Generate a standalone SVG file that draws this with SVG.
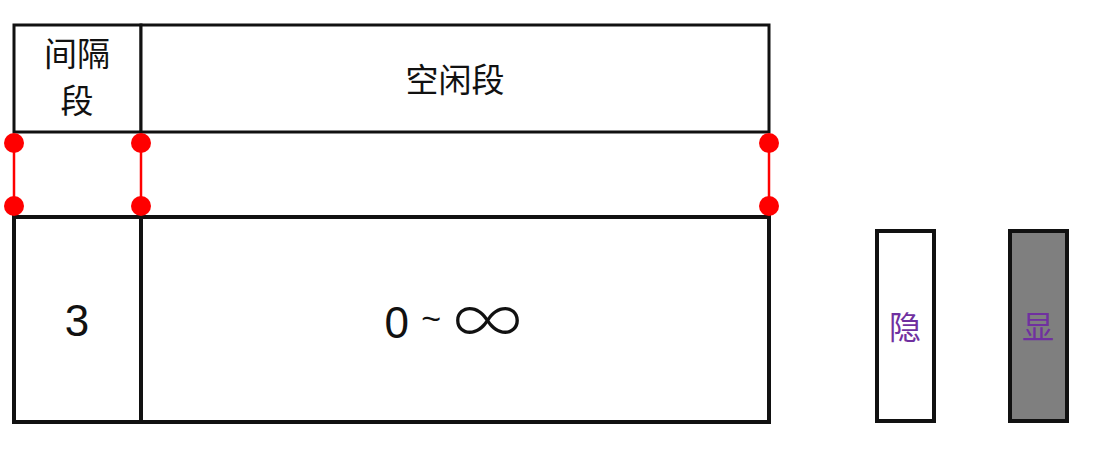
<svg xmlns="http://www.w3.org/2000/svg" width="1101" height="450" viewBox="0 0 1101 450">
<style>
.box{fill:#fff;stroke:#111;stroke-width:3}
.bbox{fill:#fff;stroke:#111;stroke-width:4}
.t{font-family:"Noto Sans CJK SC","Noto Sans",sans-serif;fill:#111;text-anchor:middle}
.n{font-family:"Liberation Sans","Noto Sans",sans-serif;fill:#111;text-anchor:middle}
.p{font-family:"Noto Sans CJK SC",sans-serif;fill:#7030a0;text-anchor:middle;font-size:32px}
.dot{fill:#f00}
.lk{stroke:#f00;stroke-width:2.5}
</style>
<rect width="1101" height="450" fill="#fff"/>
<g id="gap-top"><rect class="box" x="14" y="25" width="127" height="107"/>
<text class="t" x="77" y="66" font-size="33">间隔</text><text class="t" x="77" y="113" font-size="33">段</text></g>
<g id="idle-top"><rect class="box" x="141" y="25" width="628" height="107"/>
<text class="t" x="455" y="92" font-size="33">空闲段</text></g>
<g id="gap-bottom"><rect class="bbox" x="14" y="217" width="127" height="205"/>
<text class="n" x="77" y="336" font-size="44">3</text></g>
<g id="idle-bottom"><rect class="bbox" x="141" y="217" width="628" height="205"/>
<text class="n" x="453" y="338" font-size="44">0 <tspan font-size="34" dy="-8">~</tspan> <tspan font-family="Noto Sans CJK SC" font-size="68" font-weight="300" dy="16">∞</tspan></text></g>
<g id="connectors">
<line class="lk" x1="14" y1="143" x2="14" y2="206"/>
<line class="lk" x1="141" y1="143" x2="141" y2="206"/>
<line class="lk" x1="769" y1="143" x2="769" y2="206"/>
<circle class="dot" cx="14" cy="143" r="10"/><circle class="dot" cx="141" cy="143" r="10"/><circle class="dot" cx="769" cy="143" r="10"/>
<circle class="dot" cx="14" cy="206" r="10"/><circle class="dot" cx="141" cy="206" r="10"/><circle class="dot" cx="769" cy="206" r="10"/>
</g>
<g id="hide"><rect class="bbox" x="877" y="231" width="57" height="190"/>
<text class="p" x="905" y="339">隐</text></g>
<g id="show"><rect class="bbox" x="1010" y="231" width="57" height="190" style="fill:#7f7f7f"/>
<text class="p" x="1038" y="339">显</text></g>
</svg>
